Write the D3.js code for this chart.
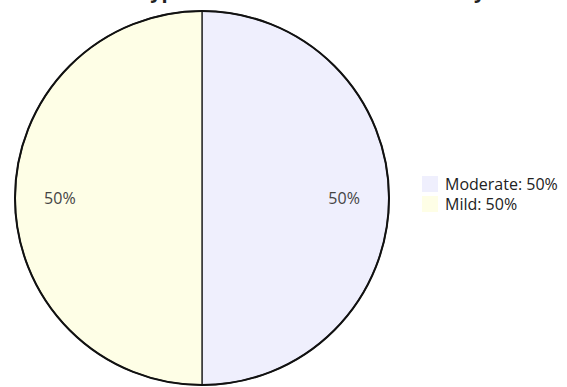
<!DOCTYPE html>
<html>
<head>
<meta charset="utf-8">
<script src="https://cdn.jsdelivr.net/npm/d3@7"></script>
<style>
  body { margin: 0; background: #fff; }
  svg { display: block; font-family: "Open Sans", sans-serif; }
</style>
</head>
<body>
<svg id="chart" width="567" height="387"></svg>
<script>
// datos del grafico
var categories = ["Moderate", "Mild"];
var values = [50, 50];
var colors = ["#efeffd", "#fefee6"];
var chartTitle = "Types of Disease Based on Severity";

var width = 567, height = 387;
var cx = 202, cy = 198, radius = 187;

var svg = d3.select("#chart");

// titulo (queda cortado arriba, como en la referencia)
svg.append("text")
    .attr("x", 312)
    .attr("y", -2)
    .attr("text-anchor", "middle")
    .attr("font-size", 20)
    .attr("font-weight", "bold")
    .attr("fill", "#222")
    .text(chartTitle);

var total = d3.sum(values);
var pie = d3.pie().sort(null).value(function(d) { return d; });
var arcs = pie(values);

var arc = d3.arc().innerRadius(0).outerRadius(radius);
var labelArc = d3.arc().innerRadius(radius * 0.76).outerRadius(radius * 0.76);

var g = svg.append("g").attr("transform", "translate(" + cx + "," + cy + ")");

g.selectAll("path.slice")
    .data(arcs)
    .enter().append("path")
    .attr("class", "slice")
    .attr("d", arc)
    .attr("fill", function(d, i) { return colors[i]; })
    .attr("stroke", "#333")
    .attr("stroke-width", 1.5);

// borde exterior
g.append("circle")
    .attr("r", radius)
    .attr("fill", "none")
    .attr("stroke", "#111")
    .attr("stroke-width", 2);

g.selectAll("text.pct")
    .data(arcs)
    .enter().append("text")
    .attr("class", "pct")
    .attr("transform", function(d) { return "translate(" + labelArc.centroid(d) + ")"; })
    .attr("dy", ".35em")
    .attr("text-anchor", "middle")
    .attr("font-size", 16)
    .attr("fill", "#444")
    .text(function(d) { return Math.round(d.value / total * 100) + "%"; });

// leyenda
var legendSize = 16, legendStep = 20;
var legend = svg.selectAll(".legend")
    .data(categories)
    .enter().append("g")
    .attr("class", "legend")
    .attr("transform", function(d, i) { return "translate(422," + (176 + i * legendStep) + ")"; });

legend.append("rect")
    .attr("width", legendSize)
    .attr("height", legendSize)
    .attr("fill", function(d, i) { return colors[i]; });

legend.append("text")
    .attr("x", 23)
    .attr("y", legendSize / 2)
    .attr("dy", ".35em")
    .attr("font-size", 16)
    .attr("fill", "#222")
    .text(function(d, i) { return d + ": " + Math.round(values[i] / total * 100) + "%"; });
</script>
</body>
</html>
